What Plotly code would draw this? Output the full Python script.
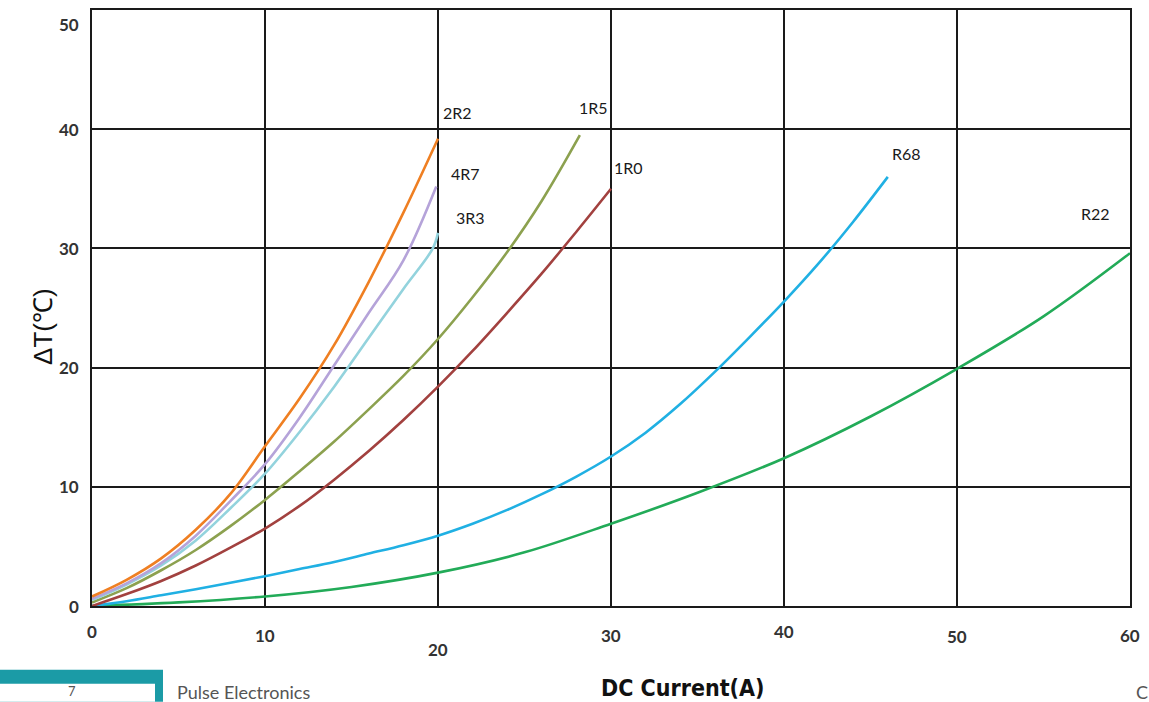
import plotly.graph_objects as go

# ---- data ----
names = ["2R2", "4R7", "3R3", "1R5", "1R0", "R68", "R22"]
x_2R2 = [0, 2, 4, 6, 8, 10, 12, 14, 16, 18, 20]
y_2R2 = [0.8, 2.2, 4.0, 6.4, 9.4, 13.4, 17.4, 21.9, 27.2, 33.0, 39.2]
x_4R7 = [0, 2, 4, 6, 8, 10, 12, 14, 16, 18, 19.9]
y_4R7 = [0.6, 1.9, 3.6, 5.9, 8.8, 11.9, 15.8, 20.2, 24.6, 29.0, 35.2]
x_3R3 = [0, 2, 4, 6, 8, 10, 12, 14, 16, 18, 19.7, 20]
y_3R3 = [0.5, 1.8, 3.4, 5.5, 8.2, 11.1, 14.6, 18.4, 22.5, 26.6, 30.0, 31.3]
x_1R5 = [0, 2, 4, 6, 8, 10, 12, 14, 16, 18, 20, 22, 24, 26, 28.2]
y_1R5 = [0.3, 1.5, 3.0, 4.7, 6.7, 8.9, 11.3, 13.8, 16.5, 19.3, 22.4, 25.9, 29.7, 34.0, 39.5]
x_1R0 = [0, 2, 4, 6, 8, 10, 12, 14, 16, 18, 20, 22, 24, 26, 28, 30]
y_1R0 = [0, 1.0, 2.1, 3.4, 4.9, 6.5, 8.4, 10.6, 13.0, 15.6, 18.4, 21.4, 24.6, 27.9, 31.4, 35.0]
x_R68 = [0, 2, 4, 6, 8, 10, 12, 14, 16, 18, 20, 22, 24, 26, 28, 30, 32, 34, 36, 38, 40, 42, 44, 46]
y_R68 = [0, 0.4, 0.9, 1.4, 1.95, 2.5, 3.1, 3.7, 4.4, 5.1, 5.9, 6.9, 8.06, 9.38, 10.86, 12.54,
         14.54, 16.94, 19.64, 22.54, 25.54, 28.74, 32.24, 36.0]
x_R22 = [0, 5, 10, 15, 20, 25, 30, 35, 40, 45, 50, 55, 60]
y_R22 = [0, 0.3, 0.8, 1.6, 2.8, 4.5, 6.9, 9.5, 12.4, 15.9, 19.9, 24.3, 29.6]
colors = ["#ef7f22", "#b5a3d9", "#93d3dd", "#8ca14f", "#a2413f", "#20b0e3", "#22ab58"]

label_x = [21.1, 21.6, 21.9, 29.0, 31.0, 47.1, 58.0]
label_y = [41.4, 36.3, 32.6, 41.8, 36.8, 38.0, 32.9]

x_ticks = [0, 10, 20, 30, 40, 50, 60]
x_tick_text = ["0", "10", "20", "30", "40", "50", "60"]
x_tick_drop = [26, 30, 44, 30, 26, 31, 30]   # pixel offsets below axis (as in the scan)
y_ticks = [0, 10, 20, 30, 40, 50]
y_tick_text = ["0", "10", "20", "30", "40", "50"]

series_x = [x_2R2, x_4R7, x_3R3, x_1R5, x_1R0, x_R68, x_R22]
series_y = [y_2R2, y_4R7, y_3R3, y_1R5, y_1R0, y_R68, y_R22]

W, H = 1149, 702
L, R, T, B = 92, 19, 8, 96
PW, PH = W - L - R, H - T - B

def px_x(p):
    return (p - L) / PW

def px_y(p):
    return (H - B - p) / PH

fig = go.Figure()
for i in [6, 5, 4, 3, 2, 1, 0]:
    fig.add_trace(go.Scatter(
        x=series_x[i], y=series_y[i], mode="lines", name=names[i],
        line=dict(color=colors[i], width=2.6, shape="spline", smoothing=1.0),
        showlegend=False, hoverinfo="skip"))

TICKFONT = dict(family="Lato, Open Sans, sans-serif", size=17, color="#333333")

annotations = []
for n, lx, ly in zip(names, label_x, label_y):
    annotations.append(dict(x=lx, y=ly, xref="x", yref="y", text=n, showarrow=False,
                            font=dict(family="Lato, Open Sans, sans-serif", size=16, color="#1a1a1a")))

for v, t, d in zip(x_ticks, x_tick_text, x_tick_drop):
    annotations.append(dict(x=v, y=px_y(H - B + d), xref="x", yref="paper", text="<b>" + t + "</b>",
                            showarrow=False, yanchor="middle", font=TICKFONT))

for v, t in zip(y_ticks, y_tick_text):
    yy = v if v < 50 else 48.8
    annotations.append(dict(x=px_x(81), y=yy, xref="paper", yref="y", text="<b>" + t + "</b>",
                            showarrow=False, xanchor="right", yanchor="middle", font=TICKFONT))

# axis titles
annotations.append(dict(x=px_x(683), y=px_y(688), xref="paper", yref="paper",
                        text="<b>DC Current(A)</b>", showarrow=False, yanchor="middle",
                        font=dict(family="DejaVu Sans Condensed, Liberation Sans Narrow, sans-serif",
                                  size=23, color="#111111")))
annotations.append(dict(x=px_x(26), y=px_y(326), xref="paper", yref="paper",
                        text="ΔT(℃)", showarrow=False, textangle=-90,
                        font=dict(family="Liberation Sans, Arial, sans-serif", size=26, color="#111111")))

# page footer remnants
annotations.append(dict(x=px_x(66), y=px_y(701), xref="paper", yref="paper", text="7",
                        showarrow=False, yanchor="bottom",
                        font=dict(family="Lato, sans-serif", size=13, color="#555555")))
annotations.append(dict(x=px_x(175), y=px_y(679), xref="paper", yref="paper", text="Pulse Electronics",
                        showarrow=False, xanchor="left", yanchor="top",
                        font=dict(family="Lato, sans-serif", size=18, color="#555555")))
annotations.append(dict(x=px_x(1134), y=px_y(679), xref="paper", yref="paper", text="C",
                        showarrow=False, xanchor="left", yanchor="top",
                        font=dict(family="Lato, sans-serif", size=18, color="#555555")))

shapes = [
    dict(type="rect", xref="paper", yref="paper", x0=px_x(0), x1=px_x(163), y0=px_y(702), y1=px_y(670),
         fillcolor="#1b9ba6", line=dict(width=0), layer="below"),
    dict(type="rect", xref="paper", yref="paper", x0=px_x(0), x1=px_x(155), y0=px_y(702), y1=px_y(684),
         fillcolor="white", line=dict(width=0), layer="below"),
]

fig.update_layout(
    width=W, height=H,
    margin=dict(l=L, r=R, t=T, b=B),
    paper_bgcolor="white", plot_bgcolor="white",
    annotations=annotations, shapes=shapes,
    xaxis=dict(range=[0, 60], tickvals=x_ticks, showticklabels=False, showgrid=True,
               gridcolor="#1a1a1a", gridwidth=1.5, showline=True, linecolor="#1a1a1a",
               linewidth=2, mirror=True, zeroline=False, fixedrange=True),
    yaxis=dict(range=[0, 50], tickvals=y_ticks, showticklabels=False, showgrid=True,
               gridcolor="#1a1a1a", gridwidth=1.5, showline=True, linecolor="#1a1a1a",
               linewidth=2, mirror=True, zeroline=False, fixedrange=True),
)

fig.write_html("out.html", config={"displayModeBar": False},
               post_script="document.body.style.margin='0px';document.body.style.overflow='hidden';")
